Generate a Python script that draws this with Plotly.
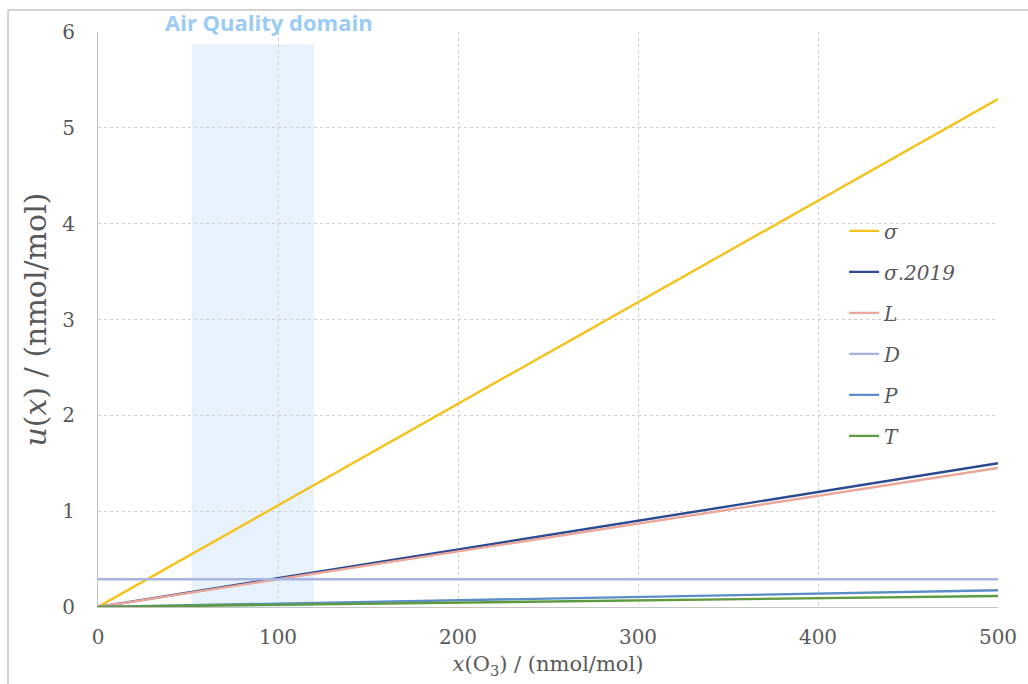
import plotly.graph_objects as go

# Ozone amount fraction (nmol/mol)
x_o3 = [0, 100, 200, 300, 400, 500]

# Standard uncertainty components u(x) in nmol/mol
u_sigma = [0.0, 1.06, 2.12, 3.18, 4.24, 5.30]
u_sigma_2019 = [0.0, 0.30, 0.60, 0.90, 1.20, 1.50]
u_L = [0.0, 0.29, 0.58, 0.87, 1.16, 1.45]
u_D = [0.29, 0.29, 0.29, 0.29, 0.29, 0.29]
u_P = [0.0, 0.035, 0.07, 0.105, 0.14, 0.175]
u_T = [0.0, 0.023, 0.046, 0.069, 0.092, 0.115]

series_names = ["σ", "σ.2019", "L", "D", "P", "T"]
series_values = [u_sigma, u_sigma_2019, u_L, u_D, u_P, u_T]
series_colors = ["#f5c21b", "#2b4a8f", "#eaa79a", "#a9b3e2", "#5b8dc6", "#5e9a3e"]

# Air quality domain band (nmol/mol) and its label
aq_domain = [52, 120]
aq_top = 5.87
aq_label = "Air Quality domain"

fig = go.Figure()

fig.add_shape(type="rect", xref="x", yref="y",
              x0=aq_domain[0], x1=aq_domain[1], y0=0, y1=aq_top,
              fillcolor="#e8f2fd", line_width=0, layer="below")

for i, (name, vals, col) in enumerate(zip(series_names, series_values, series_colors)):
    fig.add_trace(go.Scatter(
        x=x_o3, y=vals, mode="lines", name=f"<i>{name}</i>",
        line=dict(color=col, width=2.4), legendgroup=f"g{i}"))

fig.add_annotation(x=(aq_domain[0] + aq_domain[1]) / 2, xref="x", xshift=16,
                   y=1.017, yref="paper", yanchor="middle",
                   text=f"<b>{aq_label}</b>", showarrow=False,
                   font=dict(family="Open Sans", size=22, color="#9ccbf6"))

# outer frame around the chart
fig.add_shape(type="rect", xref="paper", yref="paper",
              x0=-0.1, x1=1.04, y0=-0.15, y1=1.0383,
              line=dict(color="#a8a8a8", width=1), fillcolor="rgba(0,0,0,0)")

tick_font = dict(family="DejaVu Serif", size=20, color="#595959")

fig.update_layout(
    width=1028, height=684,
    margin=dict(l=98, r=30, t=32, b=77),
    paper_bgcolor="white", plot_bgcolor="white",
    showlegend=True,
    legend=dict(x=0.829, y=0.688, xanchor="left", yanchor="top",
                traceorder="grouped", tracegroupgap=12,
                font=dict(family="DejaVu Serif", size=20, color="#595959"),
                bgcolor="rgba(0,0,0,0)", itemwidth=30),
    xaxis=dict(range=[0, 500], dtick=100, tickfont=tick_font,
               showgrid=True, gridcolor="#cfcfcf", griddash="dot", gridwidth=1,
               showline=True, linecolor="#c4c4c4", linewidth=1,
               zeroline=False, ticks="", ticklabelstandoff=12,
               title=dict(text="<i>x</i>(O<sub>3</sub>) / (nmol/mol)",
                          font=dict(family="DejaVu Serif", size=21, color="#595959"),
                          standoff=8)),
    yaxis=dict(range=[0, 6], dtick=1, tickfont=tick_font,
               showgrid=True, gridcolor="#cfcfcf", griddash="dot", gridwidth=1,
               showline=True, linecolor="#c4c4c4", linewidth=1,
               zeroline=False, ticks="", ticklabelstandoff=18,
               title=dict(text="<i>u</i>(<i>x</i>) / (nmol/mol)",
                          font=dict(family="DejaVu Serif", size=30, color="#595959"),
                          standoff=6)),
)

fig.write_html("out.html")
